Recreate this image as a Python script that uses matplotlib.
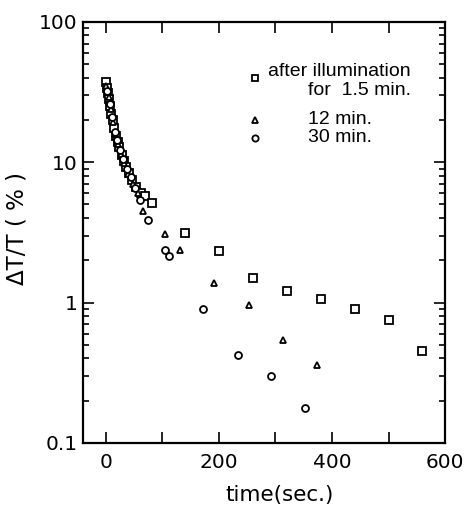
import numpy as np
import matplotlib
matplotlib.use('Agg')
import matplotlib.pyplot as plt
from matplotlib.ticker import LogLocator, FixedLocator, NullFormatter

plt.rcParams['font.family'] = ['DejaVu Sans']

# after illumination for 1.5 min
sq_t = [0, 2, 4, 6, 8, 10, 12, 15, 18, 21, 24, 28, 32, 36, 41, 47, 54, 62, 70, 82,
        140, 200, 260, 320, 380, 440, 501, 560]
sq_v = [37, 34, 31, 28, 25, 22, 20, 17.5, 15.5, 14, 12.8, 11.2, 10.2, 9.3, 8.4, 7.5, 6.7, 6.0, 5.7, 5.1,
        3.12, 2.34, 1.49, 1.20, 1.06, 0.90, 0.75, 0.45]
# 12 min
tr_t = [1, 5, 9, 13, 17, 22, 27, 33, 40, 48, 57, 66, 104, 132, 192, 253, 313, 374]
tr_v = [35, 29, 24, 19.5, 16, 13.5, 11.5, 9.8, 8.3, 7.0, 6.0, 4.5, 3.1, 2.37, 1.37, 0.96, 0.54, 0.36]
# 30 min
ci_t = [3, 7, 11, 16, 20, 25, 30, 37, 44, 52, 60, 75, 104, 111, 172, 233, 293, 352]
ci_v = [32, 26, 21, 16.5, 14.5, 12.2, 10.6, 9.0, 7.8, 6.6, 5.4, 3.9, 2.37, 2.16, 0.90, 0.42, 0.30, 0.178]

fig = plt.figure(figsize=(4.67, 5.08), dpi=100)
ax = fig.add_axes([0.178, 0.128, 0.775, 0.829])

mk = dict(linestyle='none', markerfacecolor='white', markeredgecolor='black', markeredgewidth=1.3)
ax.plot(sq_t, sq_v, marker='s', markersize=5.5, **mk)
ax.plot(tr_t, tr_v, marker='^', markersize=5, **mk)
ax.plot(ci_t, ci_v, marker='o', markersize=5, **mk)

ax.set_yscale('log')
ax.set_xlim(-40, 600)
ax.set_ylim(0.1, 100)

ax.xaxis.set_major_locator(FixedLocator([0, 200, 400, 600]))
ax.xaxis.set_minor_locator(FixedLocator([100, 300, 500]))
ax.yaxis.set_minor_locator(LogLocator(base=10, subs=np.arange(2, 10)))
ax.yaxis.set_minor_formatter(NullFormatter())
ax.set_yticks([0.1, 1, 10, 100])
ax.set_yticklabels(['0.1', '1', '10', '100'])

ax.tick_params(which='both', direction='in', top=True, right=True, width=1.2, labelsize=14.5)
ax.tick_params(axis='x', which='both', length=8, pad=7)
ax.tick_params(axis='y', which='major', length=8, pad=4)
ax.tick_params(axis='y', which='minor', length=4)
for s in ax.spines.values():
    s.set_linewidth(1.6)

ax.set_xlabel('time(sec.)', fontsize=15.5)
ax.xaxis.set_label_coords(0.544, -0.1)
ax.set_ylabel('ΔT/T ( % )', fontsize=16.5)
ax.yaxis.set_label_coords(-0.15, 0.51)

# legend drawn as marks + text, like the original
ax.plot([264], [40], marker='s', markersize=4.5, **mk)
ax.plot([264], [20], marker='^', markersize=4.5, **mk)
ax.plot([264], [14.9], marker='o', markersize=4.5, **mk)
lf = dict(fontsize=14, va='center', family='Liberation Sans')
ax.text(287, 44, 'after illumination', **lf)
ax.text(357, 32.5, 'for  1.5 min.', **lf)
ax.text(357, 20, '12 min.', **lf)
ax.text(357, 14.9, '30 min.', **lf)

fig.savefig('out.png', dpi=100)
